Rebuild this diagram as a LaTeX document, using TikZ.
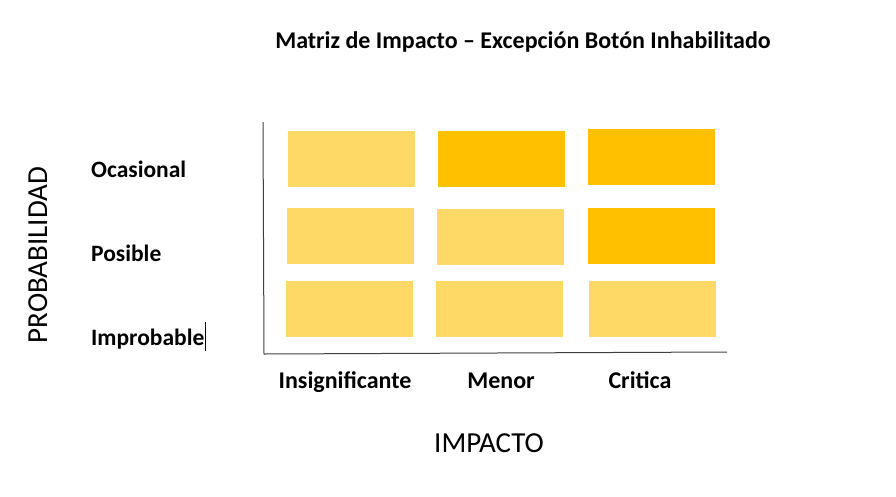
\documentclass[tikz,border=0pt]{standalone}
\usepackage{fontspec}
\setmainfont{Carlito}
\usetikzlibrary{positioning}

\definecolor{lowrisk}{HTML}{FFD966}
\definecolor{midrisk}{HTML}{FFC000}

\begin{document}
\begin{tikzpicture}[x=1pt, y=-1pt,
  cell/.style={anchor=north west, inner sep=0pt, minimum width=127pt, minimum height=56pt},
  low/.style={cell, fill=lowrisk},
  mid/.style={cell, fill=midrisk},
  rowlabel/.style={anchor=base west, inner sep=0pt, font=\fontsize{23.5}{27}\selectfont\bfseries},
  collabel/.style={anchor=base, inner sep=0pt, font=\fontsize{24}{28}\selectfont\bfseries},
  axistitle/.style={inner sep=0pt, font=\fontsize{29}{33}\selectfont},
  axis/.style={line width=1pt, black!75}]
\useasboundingbox (0,0) rectangle (896,496);
\node[anchor=base, inner sep=0pt, font=\fontsize{24}{28}\selectfont\bfseries] (title) at (523,48) {Matriz de Impacto -- Excepción Botón Inhabilitado};
% matriz
\node[low] (c11) at (288,131) {};
\node[mid] (c12) at (438,131) {};
\node[mid] (c13) at (588,129) {};
\node[low] (c21) at (287,208) {};
\node[low] (c22) at (437,209) {};
\node[mid] (c23) at (588,208) {};
\node[low] (c31) at (286,281) {};
\node[low] (c32) at (436,281) {};
\node[low] (c33) at (589,281) {};
% ejes
\coordinate (ytop) at (263,122);
\coordinate (origin) at (264,354);
\coordinate (xend) at (727,352);
\draw[axis] (ytop) -- (origin) -- (xend);
% probabilidad
\node[rowlabel] (ocasional) at (91,177) {Ocasional};
\node[rowlabel] (posible) at (91,261) {Posible};
\node[rowlabel] (improbable) at (91,345) {Improbable};
\coordinate (cursortop) at ([xshift=1pt]improbable.east |- 0,322);
\coordinate (cursorbot) at ([xshift=1pt]improbable.east |- 0,351);
\draw[line width=0.8pt] (cursortop) -- (cursorbot);
\node[axistitle, rotate=90, anchor=base] (prob) at (47,255) {PROBABILIDAD};
% impacto
\node[collabel] (insig) at (345,388) {Insignificante};
\node[collabel] (menor) at (501,388) {Menor};
\node[collabel] (critica) at (640,388) {Critica};
\node[axistitle, anchor=base] (impacto) at (489,452) {IMPACTO};
\end{tikzpicture}
\end{document}
